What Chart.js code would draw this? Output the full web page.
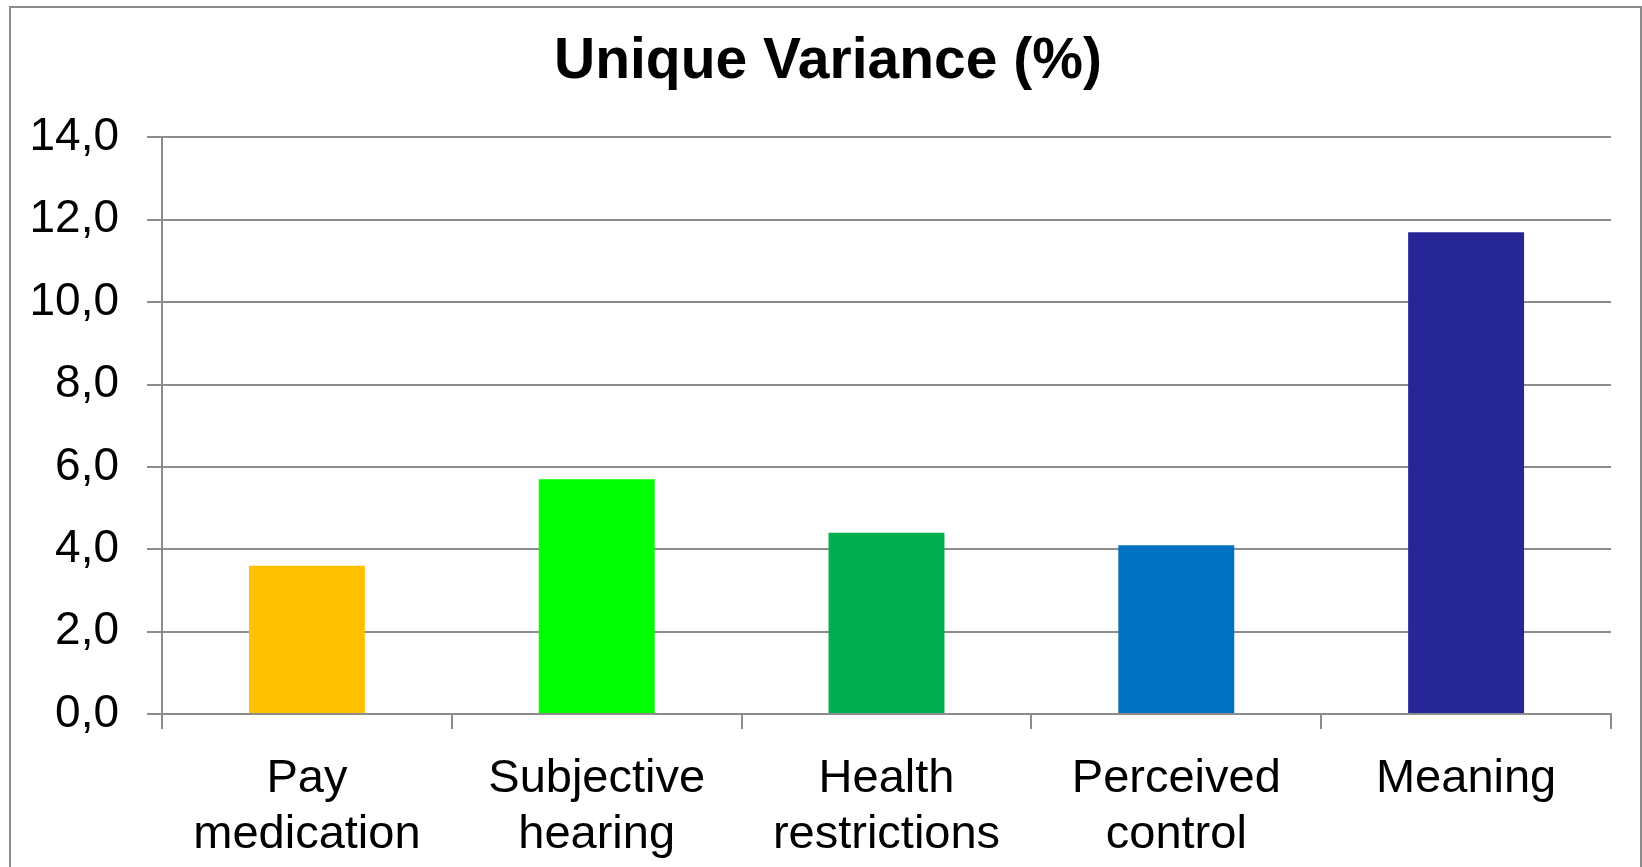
<!DOCTYPE html>
<html>
<head>
<meta charset="utf-8">
<script src="https://cdn.jsdelivr.net/npm/chart.js@4.4.1/dist/chart.umd.min.js"></script>
<style>
  html, body { margin: 0; padding: 0; background: #fff; overflow: hidden; }
  #wrap { position: relative; width: 1642px; height: 867px; }
  #frame {
    position: absolute; left: 9px; top: 6px; width: 1633px; height: 900px;
    box-sizing: border-box; border: 2px solid #8c8c8c; pointer-events: none;
  }
</style>
</head>
<body>
<div id="wrap">
  <canvas id="chart" width="1642" height="867"></canvas>
  <div id="frame"></div>
</div>
<script>
/* ── data ── */
const categories = [
  ["Pay", "medication"],
  ["Subjective", "hearing"],
  ["Health", "restrictions"],
  ["Perceived", "control"],
  ["Meaning"]
];
const uniqueVariance = [3.6, 5.7, 4.4, 4.1, 11.7];
const barColors = ["#ffc000", "#00ff00", "#00b050", "#0070c0", "#262697"];
const yMin = 0;
const yMax = 14;
const yStep = 2;

const FONT = "'Liberation Sans', Arial, sans-serif";
const GRID = "#8c8c8c";

new Chart(document.getElementById("chart"), {
  type: "bar",
  data: {
    labels: categories,
    datasets: [{
      label: "Unique Variance (%)",
      data: uniqueVariance,
      backgroundColor: barColors,
      borderWidth: 0,
      barPercentage: 0.4,
      categoryPercentage: 1.0
    }]
  },
  options: {
    responsive: false,
    animation: false,
    devicePixelRatio: 1,
    layout: { padding: { left: 29, right: 15, top: 0, bottom: 0 } },
    plugins: {
      legend: { display: false },
      tooltip: { enabled: false },
      title: {
        display: true,
        text: "Unique Variance (%)",
        color: "#000",
        font: { family: FONT, size: 57, weight: "bold", lineHeight: 1.2 },
        padding: { top: 28, bottom: 41 }
      }
    },
    scales: {
      x: {
        offset: true,
        afterFit: s => { s.height = 153; },
        border: { display: true, color: GRID, width: 2 },
        grid: {
          offset: true,
          drawOnChartArea: false,
          drawTicks: true,
          tickLength: 15,
          color: GRID,
          lineWidth: 2
        },
        ticks: {
          color: "#000",
          font: { family: FONT, size: 47, lineHeight: 1.19 },
          padding: 22,
          maxRotation: 0,
          minRotation: 0,
          autoSkip: false
        }
      },
      y: {
        min: yMin,
        max: yMax,
        afterFit: s => { s.width = 133; },
        border: { display: true, color: GRID, width: 2 },
        grid: {
          drawTicks: true,
          tickLength: 15,
          color: GRID,
          lineWidth: 2
        },
        ticks: {
          stepSize: yStep,
          color: "#000",
          padding: 28,
          font: { family: FONT, size: 46 },
          callback: v => v.toFixed(1).replace(".", ",")
        }
      },
      // empty spacer on the right so the plot ends where the original does
      spacer: {
        type: "linear",
        position: "right",
        display: true,
        afterFit: s => { s.width = 16; },
        border: { display: false },
        grid: { display: false },
        ticks: { display: false }
      }
    }
  }
});
</script>
</body>
</html>
